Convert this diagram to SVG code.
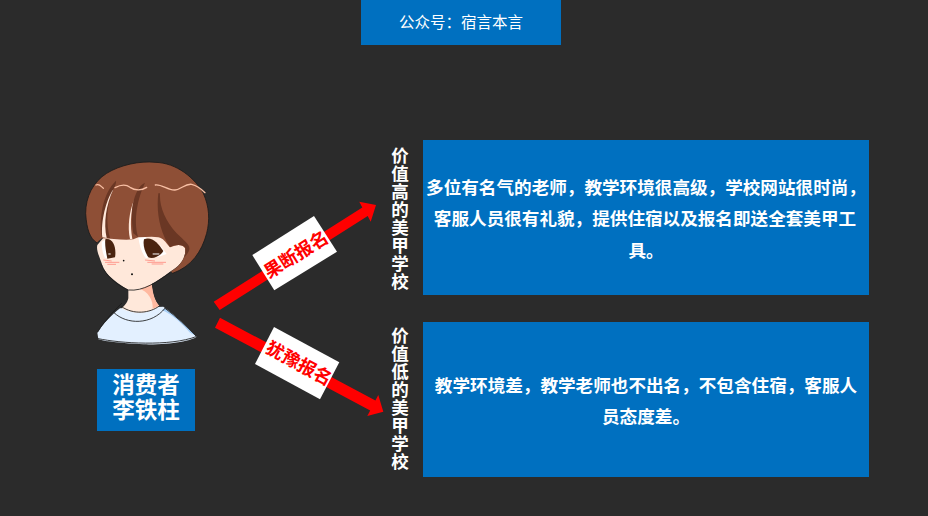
<svg xmlns="http://www.w3.org/2000/svg" width="928" height="516" viewBox="0 0 928 516">
<style>
text{font-family:"Noto Sans CJK SC","Noto Sans",sans-serif;fill:#fff}
.panel{fill:#0070c0}
.body{font-size:17.6px;font-weight:700;text-anchor:middle}
.side{font-size:17.5px;font-weight:700;writing-mode:vertical-rl;text-anchor:middle;letter-spacing:.5px}
.tag{font-size:18px;font-weight:700;text-anchor:middle;fill:#f00}
.ink{fill:none;stroke:#1a1a1a;stroke-width:2.5;stroke-linecap:round}
</style>
<rect width="928" height="516" fill="#2b2b2b"/>
<g id="header"><rect class="panel" x="361" y="0" width="200" height="45"/><text x="461" y="28" font-size="15.5" text-anchor="middle">公众号：宿言本言</text></g>
<g id="person" transform="translate(70 150) scale(.33333)">
<!-- shirt -->
<path d="M82 548C100 520 125 495 150 475L280 470C315 495 350 530 380 560C365 572 300 585 220 583C160 580 105 575 85 568Z" fill="#e3f0ff"/>
<path d="M285 475C320 500 350 530 378 558L360 548C340 525 310 495 275 480Z" fill="#a9cff5"/>
<!-- neck -->
<path d="M175 410V445C172 460 160 470 155 475C190 495 240 492 268 468C255 455 248 435 245 405Z" fill="#ffe8da"/>
<path d="M205 415L245 400C248 430 255 455 268 468L248 476C250 450 235 425 205 415Z" fill="#ffb9a0"/>
<path class="ink" d="M155 470C190 495 240 490 268 468M132 488C170 525 245 525 285 475M155 460L125 490C110 510 95 525 83 546M285 475C320 500 350 530 378 558M85 566C150 580 300 590 378 560"/>
<!-- face -->
<path d="M82 285C78 300 88 320 95 340C100 365 125 390 175 420C215 425 260 395 300 365C335 345 350 320 345 290L300 240L120 240Z" fill="#ffe8da"/>
<path class="ink" d="M95 345C105 375 140 405 175 420C220 425 262 395 300 368"/>
<!-- eyes -->
<path d="M95 275L110 268L122 322L105 324C98 310 95 295 95 275Z" fill="#fff"/>
<path d="M205 262L228 262L240 320L228 325C215 310 208 285 205 262ZM270 285L290 312L262 322Z" fill="#fff"/>
<path d="M106 268C130 262 140 295 135 322L112 326C108 305 104 285 106 268Z" fill="#4a2410"/>
<path d="M222 268C245 258 265 280 280 303C272 318 250 328 235 322C224 305 218 285 222 268Z" fill="#4a2410"/>
<path d="M115 312H122M248 312H268" stroke="#fff" stroke-width="3"/>
<path d="M100 330L125 333M105 337H148M112 343H138M225 330L255 333M232 337H288M245 342H280" stroke="#ff8b80" stroke-width="2.5" fill="none"/>
<circle cx="161" cy="332" r="2.5" fill="#111"/><circle cx="186" cy="373" r="3" fill="#111"/>
<!-- hair -->
<path d="M80 278C60 265 50 240 47 190C47 140 70 95 110 70C150 45 210 32 255 37C320 38 375 85 400 130C418 170 420 210 410 250C395 305 365 350 308 370L303 364C330 350 350 320 345 295C335 280 318 285 300 292C285 275 280 265 265 262C245 258 225 262 205 262L190 268C160 272 125 265 95 265Z" fill="#8e4f36"/>
<path d="M265 130C258 190 270 245 300 292C315 283 335 282 345 292C350 300 345 320 340 325C375 290 355 285 320 250C285 210 268 170 270 130Z" fill="#6a3724"/>
<path d="M138 92C118 110 105 140 98 170C92 200 90 230 95 262L120 264C108 225 110 170 125 130C130 115 140 105 138 92Z" fill="#6a3724"/>
<path d="M130 118C108 150 92 215 97 262L110 264C100 220 108 165 130 118ZM192 150C178 185 172 230 180 267L187 267C180 225 182 190 192 150Z" fill="#ffe8da"/>
<path d="M225 98C208 105 195 130 188 165C184 190 186 225 190 250L205 262C192 225 196 160 225 98Z" fill="#6a3724"/>
<path class="ink" d="M80 278C60 265 50 240 47 190C47 140 70 95 110 70C150 45 210 32 255 37C320 38 375 85 400 130C418 170 420 210 410 250C395 305 365 350 308 370"/>
<path d="M78 105C88 100 92 108 100 115M135 113C150 105 165 100 180 112C195 122 215 122 230 112M256 105C275 102 295 122 315 120C335 118 345 100 365 103C385 108 395 118 405 128" fill="none" stroke="#f8bfa4" stroke-width="4" stroke-linecap="round"/>
</g>
<g id="consumer"><rect class="panel" x="97" y="369" width="98" height="62"/><text font-size="22.5" font-weight="700" text-anchor="middle"><tspan x="146" y="393">消费者</tspan><tspan x="146" y="418">李铁柱</tspan></text></g>
<g id="connectors">
<polygon fill="#f00" points="213.7,301.7 362.3,207.5 359.3,201.7 376,205 370.7,221.7 367.7,216 219.7,310"/>
<polygon fill="#f00" points="220,317.7 375.4,400.5 378.3,395 383.3,411.7 367.3,416 370.2,410.5 215,327.7"/>
</g>
<g id="tag-decisive"><polygon fill="#fff" points="314,216 337,251.7 274.3,290.3 252.3,255"/><text class="tag" transform="translate(299.5 260) rotate(-32)">果断报名</text></g>
<g id="tag-hesitant"><polygon fill="#fff" points="274,327 339.3,362.3 320,399.3 255,364"/><text class="tag" transform="translate(296 369) rotate(28.5)">犹豫报名</text></g>
<g id="label-high"><text class="side" x="400" y="219">价值高的美甲学校</text></g>
<g id="label-low"><text class="side" x="400" y="399">价值低的美甲学校</text></g>
<g id="panel-high"><rect class="panel" x="423" y="140" width="446" height="155"/>
<text class="body" x="646" y="194">多位有名气的老师，教学环境很高级，学校网站很时尚，</text>
<text class="body" x="645" y="225">客服人员很有礼貌，提供住宿以及报名即送全套美甲工</text>
<text class="body" x="646" y="257">具。</text></g>
<g id="panel-low"><rect class="panel" x="423" y="322" width="446" height="155"/>
<text class="body" x="646" y="392">教学环境差，教学老师也不出名，不包含住宿，客服人</text>
<text class="body" x="646" y="423">员态度差。</text></g>
</svg>
